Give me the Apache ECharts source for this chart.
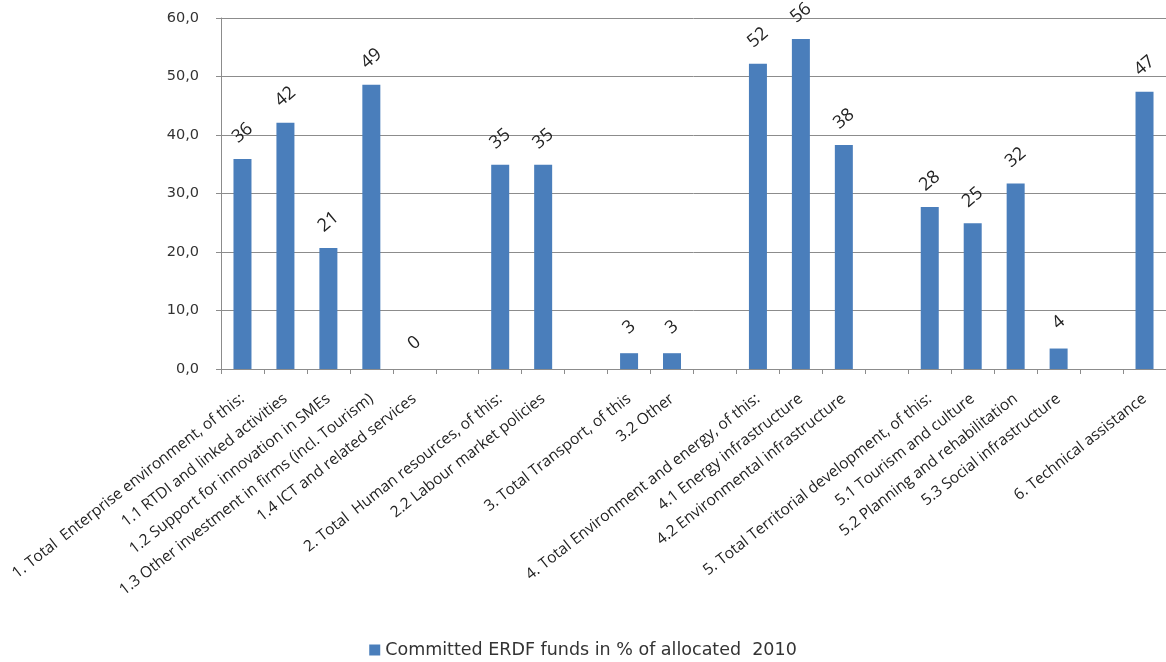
<!DOCTYPE html>
<html>
<head>
<meta charset="utf-8">
<script src="https://cdn.jsdelivr.net/npm/echarts@6/dist/echarts.min.js"></script>
<style>
html,body{margin:0;padding:0;background:#fff;}
#chart{width:1166px;height:662px;}
</style>
</head>
<body>
<div id="chart"></div>
<script>
const categories = [
  "1. Total  Enterprise environment, of this:",
  "1.1 RTDI and linked activities",
  "1.2 Support for innovation in SMEs",
  "1.3 Other investment in firms (incl. Tourism)",
  "1.4 ICT and related services",
  "",
  "2. Total  Human resources, of this:",
  "2.2 Labour market policies",
  "",
  "3. Total Transport, of this",
  "3.2 Other",
  "",
  "4. Total Environment and energy, of this:",
  "4.1 Energy infrastructure",
  "4.2 Environmental infrastructure",
  "",
  "5. Total Territorial development, of this:",
  "5.1 Tourism and culture",
  "5.2 Planning and rehabilitation",
  "5.3 Social infrastructure",
  "",
  "6. Technical assistance"
];
const values = [35.9, 42.1, 20.7, 48.6, 0, null, 34.9, 34.9, null, 2.7, 2.7, null, 52.2, 56.4, 38.3, null, 27.7, 24.9, 31.7, 3.5, null, 47.4];
const seriesName = "Committed ERDF funds in % of allocated  2010";
const yTicks = {min: 0, max: 60, interval: 10};

const chart = echarts.init(document.getElementById('chart'));
chart.setOption({
  animation: false,
  backgroundColor: '#ffffff',
  grid: {left: 221, right: 0, top: 18, bottom: 293, containLabel: false},
  legend: {
    bottom: -2, left: 'center',
    itemWidth: 11, itemHeight: 11, icon: 'rect', itemGap: 10,
    textStyle: {fontFamily: 'DejaVu Sans', fontSize: 17.5, color: '#333'},
    data: [seriesName]
  },
  xAxis: {
    type: 'category',
    data: categories,
    axisLine: {lineStyle: {color: '#8c8c8c'}},
    axisTick: {show: true, alignWithLabel: false, length: 5, lineStyle: {color: '#8c8c8c'}},
    axisLabel: {interval: 0, rotate: 38, margin: 28, fontFamily: 'Open Sans', fontSize: 15.5, color: '#222'}
  },
  yAxis: {
    type: 'value',
    min: yTicks.min, max: yTicks.max, interval: yTicks.interval,
    axisLine: {show: true, lineStyle: {color: '#8c8c8c'}},
    axisTick: {show: true, length: 5, lineStyle: {color: '#8c8c8c'}},
    splitLine: {lineStyle: {color: '#8c8c8c', width: 1}},
    axisLabel: {margin: 22, fontFamily: 'DejaVu Sans', fontSize: 14.5, color: '#333',
      formatter: v => v.toFixed(1).replace('.', ',')}
  },
  series: [{
    name: seriesName,
    type: 'bar',
    data: values,
    barWidth: 18,
    itemStyle: {color: '#4a7ebb'},
    label: {
      show: true, position: 'top', distance: 26, rotate: 40,
      align: 'center', verticalAlign: 'middle',
      fontFamily: 'Open Sans', fontSize: 18, color: '#222',
      formatter: p => p.value == null ? '' : Math.round(p.value).toString()
    }
  }]
});
</script>
</body>
</html>
